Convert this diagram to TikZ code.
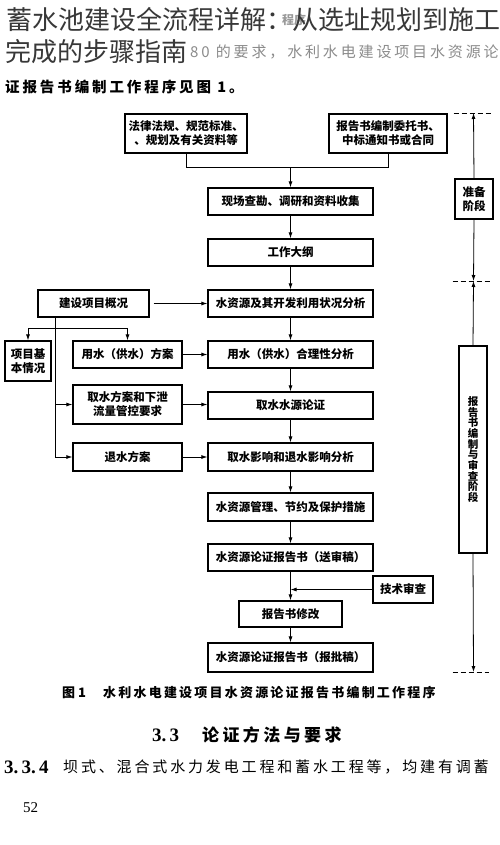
\documentclass[tikz,border=0pt]{standalone}
\usepackage{fontspec}
\setmainfont{Noto Sans CJK SC}
\newfontfamily\serifnum{Liberation Serif}
\usetikzlibrary{arrows.meta,calc}

\begin{document}
\begin{tikzpicture}[x=1pt, y=-1pt,
	box/.style={draw, line width=1.1pt, inner sep=1pt, align=center, font=\fontsize{11.5}{14}\selectfont\bfseries},
	wide/.style={box, minimum width=165pt, minimum height=27pt},
	side/.style={box, minimum width=109pt, minimum height=27pt},
	arr/.style={-{Latex[length=6pt,width=4pt]}, line width=0.9pt},
	link/.style={line width=0.9pt},
	bound/.style={dash pattern=on 5pt off 3pt, line width=0.9pt},
	txt/.style={inner sep=0pt, anchor=west}]
	\useasboundingbox[fill=white] (0,0) rectangle (500,845);

	\node[txt, text=black!40, font=\fontsize{12}{12}\selectfont\bfseries] (oldhead) at (282,20) {程序};
	\node[txt, text=black!45, font=\fontsize{15}{15}\selectfont\addfontfeatures{LetterSpace=19}] (scanline) at (190,52) {80 的要求，水利水电建设项目水资源论};
	\node[txt, font=\fontsize{14.5}{14.5}\selectfont\bfseries\addfontfeatures{LetterSpace=20}] (refline) at (5,87) {证报告书编制工作程序见图 1。};
	\node[txt, text=black!78, font=\fontsize{26}{26}\selectfont] (title1) at (6,20) {蓄水池建设全流程详解：从选址规划到施工};
	\node[txt, text=black!78, font=\fontsize{26}{26}\selectfont] (title2) at (5,52) {完成的步骤指南};

	\node[box, minimum width=122pt, minimum height=39pt] (law) at (186,133.5) {法律法规、规范标准、\\、规划及有关资料等};
	\node[box, minimum width=118pt, minimum height=39pt] (entrust) at (388,133.5) {报告书编制委托书、\\中标通知书或合同};
	\node[wide] (survey) at (290.5,201.5) {现场查勘、调研和资料收集};
	\node[wide] (outline) at (290.5,252.5) {工作大纲};
	\node[wide] (resource) at (290.5,303.5) {水资源及其开发利用状况分析};
	\node[box, minimum width=111pt, minimum height=27pt] (overview) at (93.5,303.5) {建设项目概况};
	\node[box, minimum width=46pt, minimum height=40pt] (basic) at (28,361) {项目基\\本情况};
	\node[side] (supplyplan) at (127.5,354.5) {用水（供水）方案};
	\node[wide] (supplyana) at (290.5,354.5) {用水（供水）合理性分析};
	\node[side, minimum height=39pt] (intakeplan) at (127.5,404.5) {取水方案和下泄\\流量管控要求};
	\node[wide] (intakesrc) at (290.5,405.5) {取水水源论证};
	\node[side, minimum height=28pt] (drainplan) at (127.5,457) {退水方案};
	\node[wide, minimum height=28pt] (impact) at (290.5,457) {取水影响和退水影响分析};
	\node[wide, minimum height=28pt] (protect) at (290.5,507) {水资源管理、节约及保护措施};
	\node[wide] (draft) at (290.5,557.5) {水资源论证报告书（送审稿）};
	\node[box, minimum width=60pt, minimum height=27pt] (review) at (403,589.5) {技术审查};
	\node[box, minimum width=103pt, minimum height=26pt] (revise) at (290.5,614) {报告书修改};
	\node[wide, minimum height=29pt] (final) at (290.5,657.5) {水资源论证报告书（报批稿）};

	\coordinate (merge) at ($(survey.north)+(0,-20)$);
	\draw[link] (law.south) |- (merge) -| (entrust.south);
	\draw[arr] (merge) -- (survey.north);
	\draw[arr] (survey) -- (outline);
	\draw[arr] (outline) -- (resource);
	\draw[arr] (resource) -- (supplyana);
	\draw[arr] (supplyana) -- (intakesrc);
	\draw[arr] (intakesrc) -- (impact);
	\draw[arr] (impact) -- (protect);
	\draw[arr] (protect) -- (draft);
	\draw[arr] (draft) -- (revise);
	\draw[arr] (revise) -- (final);
	\draw[arr] (review.west) -- (review.west -| draft.south);

	\draw[arr] ($(overview.east)+(4,0)$) -- (resource);
	\draw[arr] (supplyplan) -- (supplyana);
	\draw[arr] (intakeplan.east) -- (intakeplan.east -| intakesrc.west);
	\draw[arr] (drainplan) -- (impact);

	\coordinate (trunk) at ($(overview.south west)+(18,0)$);
	\coordinate (split) at ($(trunk)+(0,11)$);
	\draw[link] (trunk) -- (trunk |- drainplan.west);
	\draw[arr] (split) -| (basic.north);
	\draw[arr] (split) -| (supplyplan.north);
	\draw[arr] (trunk |- intakeplan.west) -- (intakeplan.west);
	\draw[arr] (trunk |- drainplan.west) -- (drainplan.west);

	\coordinate (top1) at (473.5,113);
	\coordinate (mid) at (473.5,281);
	\coordinate (bot) at (473.5,672);
	\draw[bound] ($(top1)+(-20,0)$) -- ($(top1)+(19,0)$);
	\draw[bound] ($(mid)+(-21,0)$) -- ($(mid)+(17,0)$);
	\draw[bound] ($(bot)+(-21,0)$) -- ($(bot)+(15,0)$);
	\node[box, minimum width=38pt, minimum height=40pt] (prep) at (474,199) {准备\\阶段};
	\node[box, minimum width=28pt, minimum height=207pt, font=\fontsize{10.5}{10.7}\selectfont\bfseries] (stage) at (473,449.5) {报\\告\\书\\编\\制\\与\\审\\查\\阶\\段};
	\draw[arr, line width=0.8pt] (prep.north) -- (top1);
	\draw[arr, line width=0.8pt] (prep.south) -- (mid);
	\draw[arr, line width=0.8pt] (stage.north) -- (mid);
	\draw[arr, line width=0.8pt] (stage.south) -- (bot);

	\node[txt, font=\fontsize{13}{13}\selectfont\bfseries] (figno) at (62,693) {图 1};
	\node[txt, font=\fontsize{13}{13}\selectfont\bfseries\addfontfeatures{LetterSpace=17}] (caption) at (103,693) {水利水电建设项目水资源论证报告书编制工作程序};
	\node[txt, font=\fontsize{19}{19}\selectfont\serifnum\bfseries] (secno) at (152,735) {3.\,3};
	\node[txt, font=\fontsize{17}{17}\selectfont\bfseries\addfontfeatures{LetterSpace=20}] (sectitle) at (202,735) {论证方法与要求};
	\node[txt, font=\fontsize{19}{19}\selectfont\serifnum\bfseries] (parno) at (4,767) {3.\,3.\,4};
	\node[txt, font=\fontsize{15}{15}\selectfont\addfontfeatures{LetterSpace=19}] (partext) at (63,767) {坝式、混合式水力发电工程和蓄水工程等，均建有调蓄};
	\node[txt, font=\fontsize{15}{15}\selectfont\serifnum] (pageno) at (23,808) {52};
\end{tikzpicture}
\end{document}
